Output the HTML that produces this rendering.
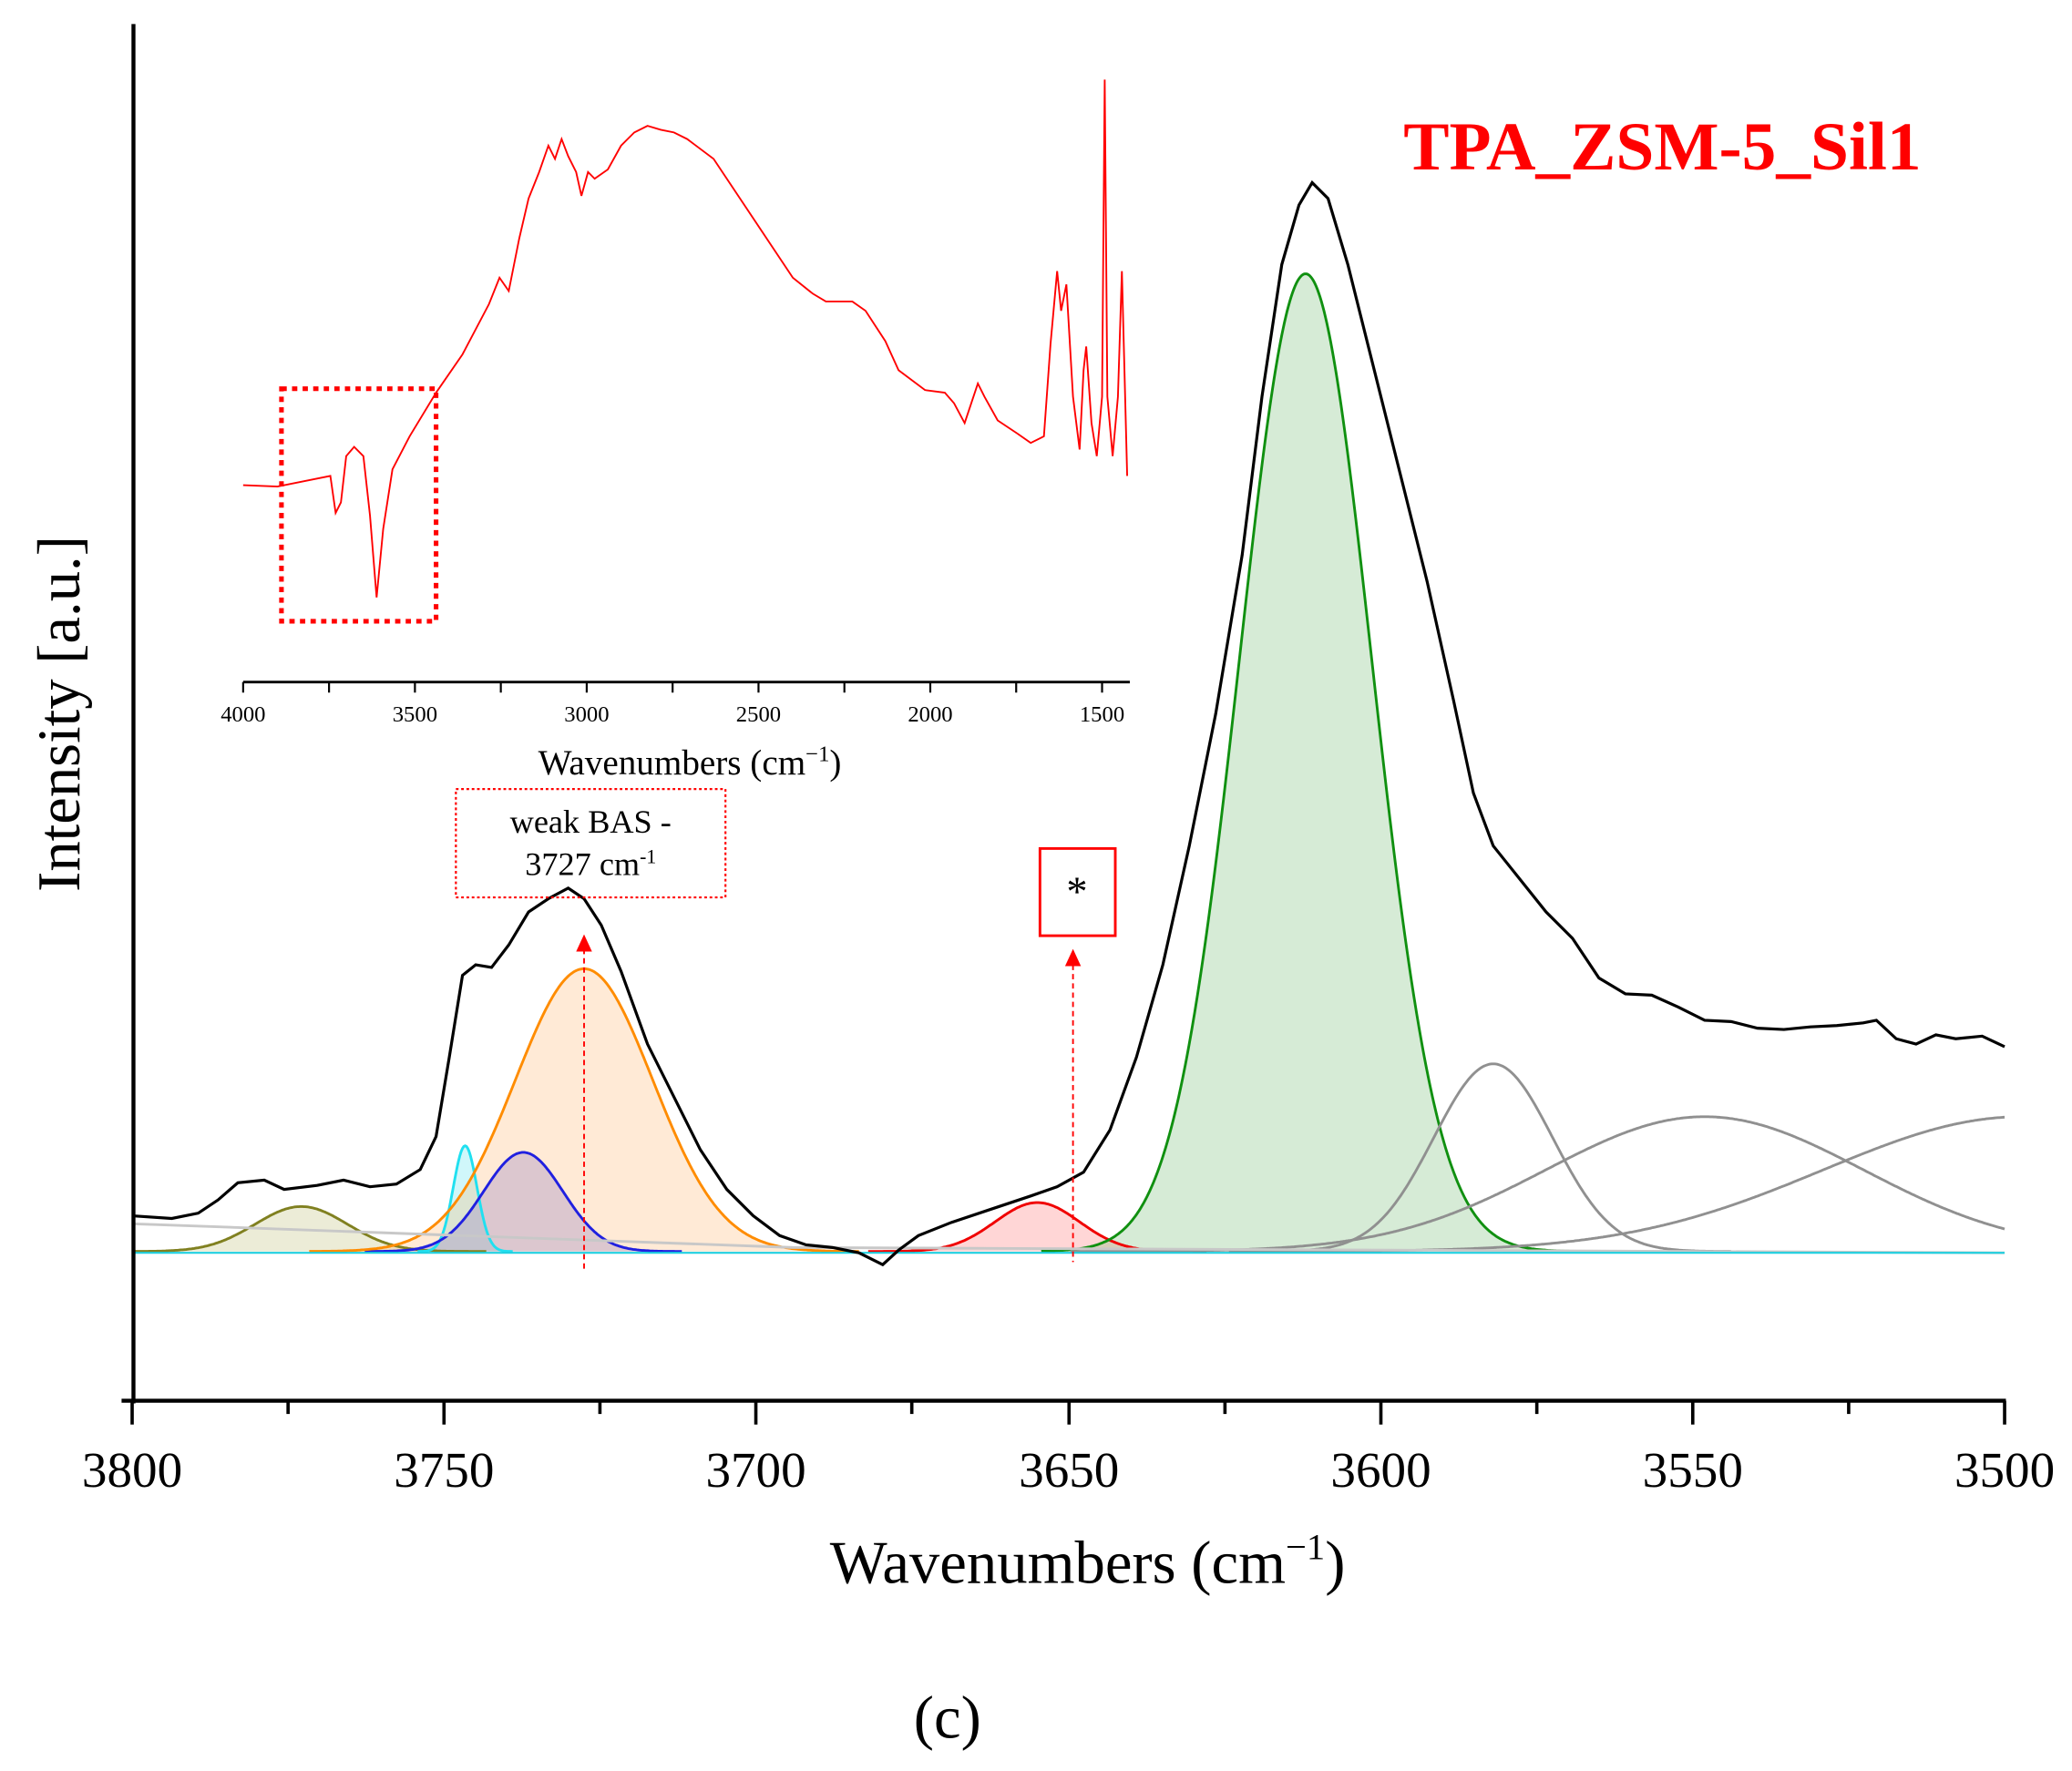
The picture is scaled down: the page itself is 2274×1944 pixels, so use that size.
<!DOCTYPE html>
<html><head><meta charset="utf-8"><style>html,body{margin:0;padding:0;background:#fff}svg{display:block}</style></head>
<body>
<svg id="s" width="2274" height="1944" viewBox="0 0 1568 1340" xmlns="http://www.w3.org/2000/svg" font-family="'Liberation Serif',serif">
<rect width="1568" height="1340" fill="#fff"/>
<g id="fills"></g>
<g id="lines" fill="none" stroke-width="2"></g>
<polyline fill="none" stroke="#000" stroke-width="2.2" points="100,920 130,922 150,918 165,908 180,895 200,893 215,900 240,897 260,893 280,898 300,896 318,885 330,860 340,800 350,738 360,730 372,732 385,715 400,690 415,680 430,672 442,680 455,700 470,735 490,790 510,830 530,870 550,900 570,920 590,935 610,942 630,944 650,948 668,957 680,946 695,935 720,925 750,915 780,905 800,898 820,887 840,855 860,800 880,730 900,640 920,540 940,420 955,300 970,200 983,155 993,138 1005,150 1020,200 1040,280 1060,360 1080,440 1100,530 1115,600 1130,640 1150,665 1170,690 1190,710 1210,740 1230,752 1250,753 1270,762 1290,772 1310,773 1330,778 1350,779 1370,777 1390,776 1410,774 1420,772 1435,786 1450,790 1465,783 1480,786 1500,784 1517,792"/>
<!-- axes -->
<line x1="101" y1="18" x2="101" y2="1062" stroke="#000" stroke-width="3"/>
<line x1="92" y1="1060" x2="1518" y2="1060" stroke="#000" stroke-width="3"/>
<g stroke="#000" stroke-width="2.5">
<line x1="100" y1="1060" x2="100" y2="1078"/><line x1="336" y1="1060" x2="336" y2="1078"/><line x1="572" y1="1060" x2="572" y2="1078"/><line x1="809" y1="1060" x2="809" y2="1078"/><line x1="1045" y1="1060" x2="1045" y2="1078"/><line x1="1281" y1="1060" x2="1281" y2="1078"/><line x1="1517" y1="1060" x2="1517" y2="1078"/>
<line x1="218" y1="1060" x2="218" y2="1070"/><line x1="454" y1="1060" x2="454" y2="1070"/><line x1="690" y1="1060" x2="690" y2="1070"/><line x1="927" y1="1060" x2="927" y2="1070"/><line x1="1163" y1="1060" x2="1163" y2="1070"/><line x1="1399" y1="1060" x2="1399" y2="1070"/>
</g>
<g font-size="38" text-anchor="middle">
<text x="100" y="1125">3800</text><text x="336" y="1125">3750</text><text x="572" y="1125">3700</text><text x="809" y="1125">3650</text><text x="1045" y="1125">3600</text><text x="1281" y="1125">3550</text><text x="1517" y="1125">3500</text>
</g>
<text x="823" y="1198" font-size="46" text-anchor="middle">Wavenumbers (cm<tspan font-size="28" dy="-18">−1</tspan><tspan dy="18">)</tspan></text>
<text transform="translate(60,540) rotate(-90)" font-size="46" text-anchor="middle">Intensity [a.u.]</text>
<text x="717" y="1315" font-size="46" text-anchor="middle">(c)</text>
<text x="1258" y="128" font-size="52" font-weight="bold" fill="#f00" text-anchor="middle">TPA_ZSM-5_Sil1</text>
<!-- inset -->
<polyline fill="none" stroke="#f00" stroke-width="1.3" points="184,367 210,368 240,362 250,360 254,388 258,380 262,345 268,338 275,345 280,390 285,452 290,400 297,355 310,330 330,297 350,268 370,230 378,210 385,220 393,180 400,150 408,130 415,110 420,120 425,105 430,118 436,130 440,148 445,130 450,135 460,128 470,110 480,100 490,95 500,98 510,100 520,105 540,120 560,150 580,180 600,210 615,222 625,228 645,228 655,235 670,258 680,280 700,295 715,297 722,305 730,320 735,305 740,290 745,300 755,318 770,328 780,335 790,330 795,260 800,205 803,235 807,215 812,300 817,340 820,280 822,262 826,320 830,345 834,300 836,60 838,300 842,345 846,300 849,205 853,360"/>
<rect x="213" y="294" width="117" height="176" fill="none" stroke="#f00" stroke-width="3.5" stroke-dasharray="4,4"/>
<line x1="184" y1="516" x2="855" y2="516" stroke="#000" stroke-width="2"/>
<g stroke="#000" stroke-width="1.5">
<line x1="184" y1="516" x2="184" y2="524"/><line x1="249" y1="516" x2="249" y2="524"/><line x1="314" y1="516" x2="314" y2="524"/><line x1="379" y1="516" x2="379" y2="524"/><line x1="444" y1="516" x2="444" y2="524"/><line x1="509" y1="516" x2="509" y2="524"/><line x1="574" y1="516" x2="574" y2="524"/><line x1="639" y1="516" x2="639" y2="524"/><line x1="704" y1="516" x2="704" y2="524"/><line x1="769" y1="516" x2="769" y2="524"/><line x1="834" y1="516" x2="834" y2="524"/>
</g>
<g font-size="17" text-anchor="middle">
<text x="184" y="546">4000</text><text x="314" y="546">3500</text><text x="444" y="546">3000</text><text x="574" y="546">2500</text><text x="704" y="546">2000</text><text x="834" y="546">1500</text>
</g>
<text x="522" y="586" font-size="27" text-anchor="middle">Wavenumbers  (cm<tspan font-size="17" dy="-10">−1</tspan><tspan dy="10">)</tspan></text>
<!-- annotations -->
<rect x="345" y="597" width="204" height="82" fill="none" stroke="#f00" stroke-width="1.5" stroke-dasharray="2,2"/>
<text x="447" y="630" font-size="25" text-anchor="middle">weak BAS -</text>
<text x="447" y="662" font-size="25" text-anchor="middle">3727 cm<tspan font-size="15" dy="-9">-1</tspan></text>
<rect x="787" y="642" width="57" height="66" fill="none" stroke="#f00" stroke-width="2"/>
<text x="815" y="685" font-size="32" text-anchor="middle">*</text>
<line x1="442" y1="718" x2="442" y2="960" stroke="#f00" stroke-width="1.3" stroke-dasharray="4,3"/>
<polygon points="436,720 448,720 442,707" fill="#f00"/>
<line x1="812" y1="730" x2="812" y2="955" stroke="#f00" stroke-width="1.3" stroke-dasharray="4,3"/>
<polygon points="806,731 818,731 812,718" fill="#f00"/>
<script>
var B=947;
var G=[
 [228,34,35,'#808020','rgba(200,200,140,0.35)'],
 [352,80,9,'#20e0f0','rgba(100,230,240,0.3)'],
 [396,75,30,'#2020e0','rgba(120,120,230,0.35)'],
 [442,214,52,'#ff8c00','rgba(255,170,90,0.25)'],
 [785,37,32,'#f00000','rgba(255,120,120,0.3)'],
 [988,740,50,'#109010','rgba(120,190,120,0.3)'],
 [1130,142,45,'#909090',null],
 [1290,102,120,'#909090',null],
 [1530,102,150,'#909090',null]
];
var f=document.getElementById('fills'),l=document.getElementById('lines'),ns='http://www.w3.org/2000/svg';
G.forEach(function(g){
 var p='',x0=Math.max(100,g[0]-4*g[2]),x1=Math.min(1517,g[0]+4*g[2]);
 for(var x=x0;x<=x1;x+=1){var y=B-g[1]*Math.exp(-Math.pow((x-g[0])/g[2],2)/2);p+=(p?'L':'M')+x.toFixed(1)+','+y.toFixed(1);}
 if(g[4]){var a=document.createElementNS(ns,'path');a.setAttribute('d',p+'L'+x1+','+B+'L'+x0+','+B+'Z');a.setAttribute('fill',g[4]);f.appendChild(a);}
 var b=document.createElementNS(ns,'path');b.setAttribute('d',p);b.setAttribute('stroke',g[3]);l.appendChild(b);
});
var c=document.createElementNS(ns,'path');c.setAttribute('d','M100,926 L600,944 L1517,948');c.setAttribute('stroke','#c8c8c8');l.appendChild(c);
var d=document.createElementNS(ns,'path');d.setAttribute('d','M100,948 L1517,948');d.setAttribute('stroke','#20d0e0');d.setAttribute('stroke-width','1.5');l.appendChild(d);
</script>
</svg>
</body></html>
